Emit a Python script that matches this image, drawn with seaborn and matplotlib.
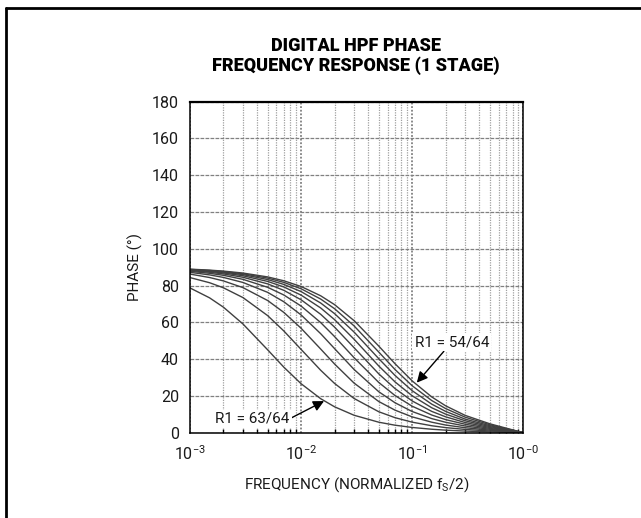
import pandas as pd
import matplotlib
matplotlib.use('Agg')
import matplotlib.pyplot as plt
import seaborn as sns
from matplotlib.lines import Line2D
from matplotlib.ticker import FixedLocator, FixedFormatter, LogLocator, NullFormatter

# frequences normalisees (fs/2) et phases, une liste par R1
freq = [0.001, 0.0015, 0.002, 0.003, 0.005, 0.007, 0.01, 0.015, 0.02, 0.03,
        0.05, 0.07, 0.1, 0.15, 0.2, 0.3, 0.5, 0.7, 1.0]

phase_63 = [78.72, 73.34, 68.25, 59.10, 45.07, 35.60, 26.63, 18.50, 14.09, 9.48,
            5.71, 4.08, 2.85, 1.88, 1.38, 0.88, 0.45, 0.23, 0.0]
phase_62 = [84.35, 81.56, 78.80, 73.46, 63.67, 55.29, 45.30, 33.97, 26.80, 18.60,
            11.40, 8.18, 5.72, 3.78, 2.77, 1.78, 0.91, 0.47, 0.0]
phase_61 = [86.26, 84.39, 82.54, 78.89, 71.88, 65.39, 56.79, 45.51, 37.37, 26.97,
            16.96, 12.27, 8.61, 5.71, 4.17, 2.70, 1.38, 0.70, 0.0]
phase_60 = [87.21, 85.82, 84.44, 81.69, 76.32, 71.18, 64.04, 53.85, 45.74, 34.37,
            22.29, 16.29, 11.51, 7.66, 5.67, 3.63, 1.85, 0.94, 0.0]
phase_59 = [87.79, 86.68, 85.58, 83.39, 79.07, 74.87, 68.87, 59.90, 52.29, 40.76,
            27.32, 20.22, 14.39, 9.61, 7.12, 4.59, 2.33, 1.19, 0.0]
phase_58 = [88.17, 87.26, 86.34, 84.52, 80.93, 77.40, 72.28, 64.40, 57.42, 46.20,
            32.00, 24.01, 17.25, 11.58, 8.63, 5.52, 2.82, 1.44, 0.0]
phase_57 = [88.44, 87.67, 86.89, 85.34, 82.27, 79.24, 74.81, 67.84, 61.49, 50.81,
            36.29, 27.65, 20.06, 13.55, 10.10, 6.46, 3.31, 1.69, 0.0]
phase_56 = [88.65, 87.98, 87.30, 85.96, 83.28, 80.63, 76.74, 70.53, 64.76, 54.71,
            40.27, 31.14, 22.83, 15.52, 11.58, 7.37, 3.81, 1.95, 0.0]
phase_55 = [88.81, 88.22, 87.62, 86.43, 84.07, 81.73, 78.27, 72.69, 67.44, 58.06,
            43.86, 34.38, 25.52, 17.48, 13.11, 8.43, 4.33, 2.21, 0.0]
phase_54 = [88.94, 88.41, 87.88, 86.82, 84.71, 82.61, 79.50, 74.46, 69.65, 60.92,
            47.12, 37.52, 28.15, 19.44, 14.62, 9.40, 4.84, 2.48, 0.0]

courbes = {
    '63/64': phase_63, '62/64': phase_62, '61/64': phase_61, '60/64': phase_60,
    '59/64': phase_59, '58/64': phase_58, '57/64': phase_57, '56/64': phase_56,
    '55/64': phase_55, '54/64': phase_54,
}

x_ticks = [1e-3, 1e-2, 1e-1, 1.0]
x_labels = ['10$^{-3}$', '10$^{-2}$', '10$^{-1}$', '10$^{-0}$']
y_ticks = list(range(0, 181, 20))

# tableau long pour seaborn
lignes = []
for r1, valeurs in courbes.items():
    for f, p in zip(freq, valeurs):
        lignes.append({'R1': r1, 'freq': f, 'phase': p})
df = pd.DataFrame(lignes)

sns.set_theme(style='white')
police = ['Roboto', 'DejaVu Sans']
plt.rcParams['font.family'] = police
plt.rcParams['mathtext.fontset'] = 'custom'
plt.rcParams['mathtext.rm'] = 'Roboto'
plt.rcParams['mathtext.default'] = 'regular'

fig = plt.figure(figsize=(6.41, 5.18), dpi=100)
ax = fig.add_axes([190 / 641, 85.3 / 518, 333.3 / 641, 331 / 518])

sns.lineplot(data=df, x='freq', y='phase', hue='R1', palette=['#404040'] * len(courbes),
             legend=False, linewidth=1.0, ax=ax)

ax.set_xscale('log')
ax.set_xlim(1e-3, 1.0)
ax.set_ylim(0, 180)
ax.xaxis.set_major_locator(FixedLocator(x_ticks))
ax.xaxis.set_major_formatter(FixedFormatter(x_labels))
ax.xaxis.set_minor_locator(LogLocator(base=10, subs=range(2, 10)))
ax.xaxis.set_minor_formatter(NullFormatter())
ax.set_yticks(y_ticks)

# grille
ax.grid(which='major', axis='y', color='#808080', linestyle=(0, (3, 1)), linewidth=0.9)
ax.grid(which='major', axis='x', color='#808080', linestyle=(0, (1, 1)), linewidth=1.3)
ax.grid(which='minor', axis='x', color='#a0a0a0', linestyle=(0, (1, 1)), linewidth=0.9)

ax.tick_params(axis='both', which='major', direction='in', length=4, color='black',
               labelsize=11.5, labelcolor='#1a1a1a', pad=8)
ax.tick_params(axis='x', which='minor', direction='in', length=3, color='black', bottom=True)
for s in ax.spines.values():
    s.set_color('black')
    s.set_linewidth(1.1)
ax.spines['top'].set_linewidth(1.6)

ax.set_xlabel('FREQUENCY (NORMALIZED f$_S$/2)', fontsize=11, color='#1a1a1a', labelpad=9)
ax.set_ylabel('PHASE (°)', fontsize=11, color='#1a1a1a', labelpad=6)

fig.text(356 / 641, 1 - 56 / 518, 'DIGITAL HPF PHASE\nFREQUENCY RESPONSE (1 STAGE)',
         ha='center', va='center', fontsize=13, fontweight='heavy', color='black',
         linespacing=1.15)

# annotations avec fleches
boite = dict(boxstyle='square,pad=0.15', facecolor='white', edgecolor='none')
fleche = dict(arrowstyle='-|>', color='black', lw=1.0, mutation_scale=16, shrinkA=0, shrinkB=0)
ax.annotate('R1 = 54/64', xy=(0.11, 27.2), xytext=(0.2275, 49.3), textcoords='data',
            ha='center', va='center', fontsize=11, color='#1a1a1a', bbox=boite,
            arrowprops=fleche)
ax.annotate('R1 = 63/64', xy=(0.0161, 17.2), xytext=(0.00363, 7.5), textcoords='data',
            ha='center', va='center', fontsize=11, color='#1a1a1a', bbox=boite,
            arrowprops=dict(fleche, relpos=(1.0, 0.5)))

# cadre exterieur (haut et gauche)
fig.add_artist(Line2D([5.5 / 641, 1.0], [1 - 8 / 518, 1 - 8 / 518], color='black', lw=2,
                      transform=fig.transFigure))
fig.add_artist(Line2D([5.5 / 641, 5.5 / 641], [0.0, 1 - 8 / 518], color='black', lw=2,
                      transform=fig.transFigure))

fig.savefig('out.png', dpi=100, facecolor='white')
plt.close(fig)
